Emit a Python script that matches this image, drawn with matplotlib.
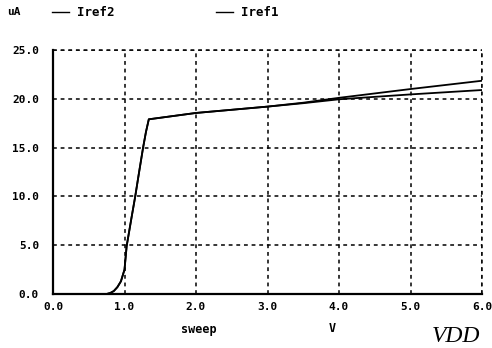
import matplotlib
matplotlib.use("Agg")
import matplotlib.pyplot as plt
from matplotlib.lines import Line2D

# Data
v_common = [0.0, 0.75, 0.8, 0.85, 0.9, 0.95, 1.0, 1.03, 1.1, 1.15, 1.2, 1.26, 1.3, 1.34, 2.0, 3.0]
i_common = [0.0, 0.0, 0.1, 0.3, 0.7, 1.3, 2.5, 4.9, 7.9, 10.0, 12.3, 15.0, 16.6, 17.9, 18.55, 19.2]
v_tail = [3.5, 4.0, 5.0, 6.0]
iref1_tail = [19.6, 20.1, 21.0, 21.85]
iref2_tail = [19.55, 19.95, 20.45, 20.9]

v1 = v_common + v_tail
iref1 = i_common + iref1_tail
v2 = v_common + v_tail
iref2 = i_common + iref2_tail

xticks = [0, 1, 2, 3, 4, 5, 6]
xticklabels = ["0.0", "1.0", "2.0", "3.0", "4.0", "5.0", "6.0"]
yticks = [0, 5, 10, 15, 20, 25]
yticklabels = ["0.0", "5.0", "10.0", "15.0", "20.0", "25.0"]

mono = "DejaVu Sans Mono"

fig = plt.figure(figsize=(4.92, 3.48), dpi=100)
ax = fig.add_axes([53/492, (348-294)/348, (482-53)/492, (294-50)/348])

ax.plot(v1, iref1, color="black", lw=1.3)
ax.plot(v2, iref2, color="black", lw=1.3)

ax.set_xlim(0, 6)
ax.set_ylim(0, 25)
ax.set_xticks(xticks)
ax.set_xticklabels(xticklabels, fontfamily=mono, fontweight="bold", fontsize=8)
ax.set_yticks(yticks)
ax.set_yticklabels(yticklabels, fontfamily=mono, fontweight="bold", fontsize=8)
ax.tick_params(axis="y", length=0, pad=10)
ax.tick_params(axis="x", length=0, pad=6)

ax.grid(True, color="black", linestyle=(0, (2.5, 2.5)), lw=1.1)
for s in ["top", "right"]:
    ax.spines[s].set_visible(False)
for s in ["left", "bottom"]:
    ax.spines[s].set_linewidth(1.6)

# top/right boundary as dotted lines (grid continuation)
ax.axhline(25, color="black", linestyle=(0, (2.5, 2.5)), lw=1.1, clip_on=False)
ax.axvline(6, color="black", linestyle=(0, (2.5, 2.5)), lw=1.1, clip_on=False)

# header texts
yh = 1 - 12/348
fig.text(7/492, yh, "uA", fontfamily=mono, fontweight="bold", fontsize=8, va="center")
fig.add_artist(Line2D([52/492, 69/492], [yh, yh], color="black", lw=1, transform=fig.transFigure))
fig.text(77/492, yh, "Iref2", fontfamily=mono, fontweight="bold", fontsize=9, va="center")
fig.add_artist(Line2D([216/492, 233/492], [yh, yh], color="black", lw=1, transform=fig.transFigure))
fig.text(241/492, yh, "Iref1", fontfamily=mono, fontweight="bold", fontsize=9, va="center")

# bottom texts
fig.text(199/492, 1 - 329/348, "sweep", fontfamily=mono, fontweight="bold", fontsize=8.5, ha="center", va="center")
fig.text(332/492, 1 - 329/348, "V", fontfamily=mono, fontweight="bold", fontsize=8.5, ha="center", va="center")
fig.text(456/492, 1 - 337/348, "VDD", fontfamily="Liberation Serif", fontstyle="italic", fontsize=17, ha="center", va="center")

fig.savefig("out.png", dpi=100)
